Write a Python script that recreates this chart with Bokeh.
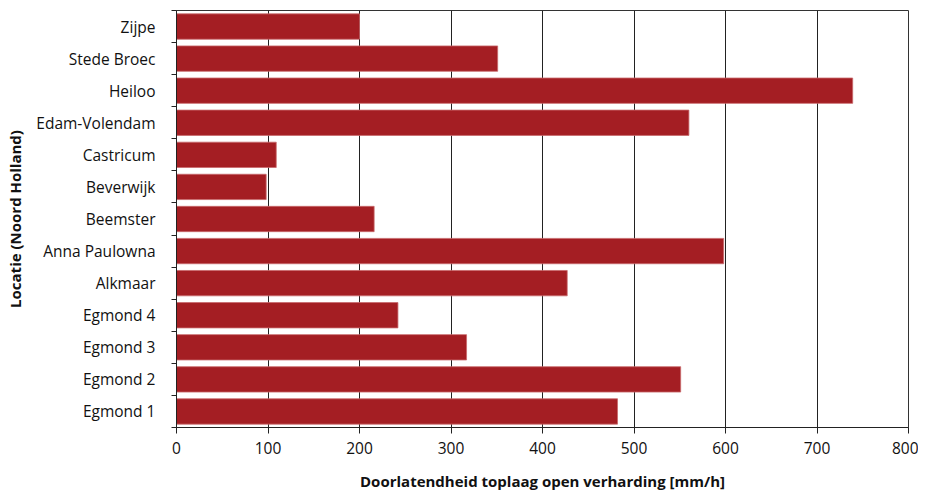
from bokeh.plotting import figure
from bokeh.models import FixedTicker, ColumnDataSource
from bokeh.embed import file_html
from bokeh.resources import INLINE

# Data (bottom to top)
locations = ["Egmond 1", "Egmond 2", "Egmond 3", "Egmond 4", "Alkmaar",
             "Anna Paulowna", "Beemster", "Beverwijk", "Castricum",
             "Edam-Volendam", "Heiloo", "Stede Broec", "Zijpe"]
permeability = [482, 551, 317, 242, 427, 598, 216, 98, 109, 560, 739, 351, 200]
x_ticks = [0, 100, 200, 300, 400, 500, 600, 700, 800]

n = len(locations)
ypos = [i + 0.5 for i in range(n)]
src = ColumnDataSource(data=dict(y=ypos, v=permeability, name=locations))

p = figure(width=918, height=495, output_backend="svg", toolbar_location=None,
           x_range=(0, 800), y_range=(0, n),
           min_border_left=176, min_border_right=10, min_border_top=10,
           min_border_bottom=68)

p.hbar(y="y", left=0, right="v", height=0.79, source=src,
       fill_color="#A41E23", line_color="#C8686B", line_width=0.8)

FONT = "Open Sans"

# x axis
p.xaxis.ticker = FixedTicker(ticks=x_ticks)
p.xaxis.axis_label = "Doorlatendheid toplaag open verharding [mm/h]"
p.xaxis.axis_label_text_font = FONT
p.xaxis.axis_label_text_font_style = "bold"
p.xaxis.axis_label_text_font_size = "15px"
p.xaxis.axis_label_text_color = "#111111"
p.xaxis.axis_label_standoff = 14
p.xaxis.major_label_text_font = FONT
p.xaxis.major_label_text_font_size = "15.5px"
p.xaxis.major_label_text_color = "#111111"
p.xaxis.major_label_standoff = 8
p.xaxis.major_tick_out = 6
p.xaxis.major_tick_in = 0
p.xaxis.minor_tick_line_color = None
p.xaxis.axis_line_color = "#222222"
p.xaxis.major_tick_line_color = "#222222"

# y axis: labels at category centers, ticks at band boundaries
p.yaxis.ticker = FixedTicker(ticks=ypos, minor_ticks=list(range(n + 1)))
p.yaxis.major_label_overrides = {y: name for y, name in zip(ypos, locations)}
p.yaxis.major_tick_line_color = None
p.yaxis.minor_tick_line_color = "#222222"
p.yaxis.minor_tick_out = 5
p.yaxis.minor_tick_in = 0
p.yaxis.axis_line_color = "#222222"
p.yaxis.major_label_text_font = FONT
p.yaxis.major_label_text_font_size = "15.5px"
p.yaxis.major_label_text_color = "#111111"
p.yaxis.major_label_standoff = 15
p.yaxis.axis_label = "Locatie (Noord Holland)"
p.yaxis.axis_label_text_font = FONT
p.yaxis.axis_label_text_font_style = "bold"
p.yaxis.axis_label_text_font_size = "15px"
p.yaxis.axis_label_text_color = "#111111"
p.yaxis.axis_label_standoff = 8

# grid
p.ygrid.grid_line_color = None
p.xgrid.grid_line_color = "#222222"
p.xgrid.grid_line_width = 1

p.outline_line_color = "#333333"
p.outline_line_width = 1
p.background_fill_color = "white"
p.border_fill_color = "white"

open("out.html", "w").write(file_html(p, INLINE))
